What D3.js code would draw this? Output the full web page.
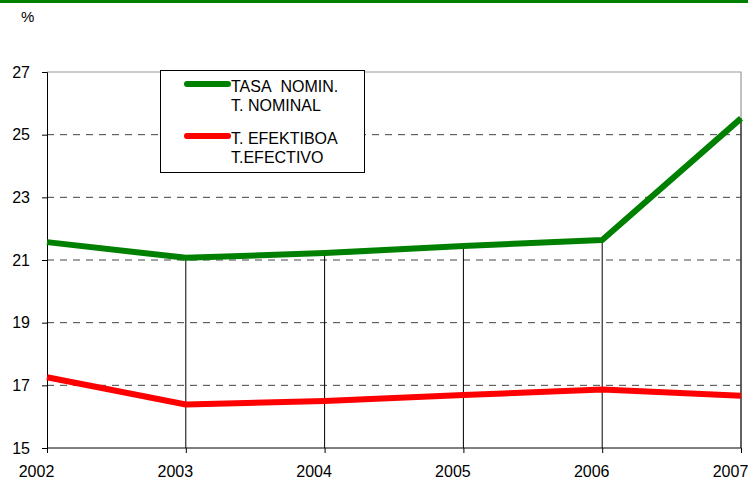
<!DOCTYPE html>
<html><head><meta charset="utf-8">
<script src="https://cdn.jsdelivr.net/npm/d3@7"></script>
<style>
body{margin:0;background:#fff;}
svg{display:block;font-family:"Liberation Sans",Arial,sans-serif;}
</style></head>
<body>
<svg id="c" width="748" height="482"></svg>
<script>
const years = [2002, 2003, 2004, 2005, 2006, 2007];
const nominal = [21.57, 21.07, 21.22, 21.45, 21.64, 25.52];
const efectivo = [17.26, 16.39, 16.50, 16.69, 16.87, 16.67];
const yTicks = [15, 17, 19, 21, 23, 25, 27];
const seriesNames = [["TASA\u00A0\u00A0NOMIN.", "T. NOMINAL"], ["T. EFEKTIBOA", "T.EFECTIVO"]];
const seriesColors = ["#008000", "#ff0000"];

const svg = d3.select("#c");
const L = 47, R = 741, T = 72, B = 448;
const x = d3.scaleLinear().domain([2002, 2007]).range([L, R]);
const y = d3.scaleLinear().domain([15, 27]).range([B, T]);

// top green band
svg.append("rect").attr("x", 0).attr("y", 0).attr("width", 748).attr("height", 3).attr("fill", "#008000");

// % label
svg.append("text").attr("x", 21).attr("y", 22).attr("font-size", 15).attr("fill", "#000").text("%");

// dashed gridlines
svg.append("g").selectAll("line").data(yTicks.filter(d => d > 15 && d < 27)).join("line")
  .attr("x1", L).attr("x2", R).attr("y1", d => y(d)).attr("y2", d => y(d))
  .attr("stroke", "#444").attr("stroke-width", 1).attr("stroke-dasharray", "7,6");

// plot border top/right (gray)
svg.append("path").attr("d", `M${L},${y(27)}H${R}V${B}`).attr("fill", "none").attr("stroke", "#999").attr("stroke-width", 1.2);

// drop lines
svg.append("g").selectAll("line").data(years.slice(1)).join("line")
  .attr("x1", d => x(d)).attr("x2", d => x(d))
  .attr("y1", (d, i) => y(nominal[i + 1])).attr("y2", B)
  .attr("stroke", "#000").attr("stroke-width", 1);

// Axes
const yAxis = d3.axisLeft(y).tickValues(yTicks).tickSize(5).tickPadding(12).tickFormat(d3.format("d"));
const gy = svg.append("g").attr("transform", `translate(${L},0)`).call(yAxis);
gy.select(".domain").attr("stroke", "#000");
gy.selectAll(".tick line").attr("stroke", "#000");
gy.selectAll(".tick text").attr("font-size", 16).attr("fill", "#000").attr("font-family", "Liberation Sans, Arial, sans-serif");

const xAxis = d3.axisBottom(x).tickValues(years).tickSize(5).tickFormat(d3.format("d"));
const gx = svg.append("g").attr("transform", `translate(0,${B})`).call(xAxis);
gx.select(".domain").attr("stroke", "#000").attr("d", `M${L},0H${R}`);
gx.selectAll(".tick line").attr("stroke", "#000");
gx.selectAll(".tick text").attr("font-size", 16).attr("fill", "#000")
  .attr("font-family", "Liberation Sans, Arial, sans-serif")
  .attr("dy", null).attr("y", 29).attr("x", -11);

// series lines
const line = d3.line().x((d, i) => x(years[i])).y(d => y(d));
[nominal, efectivo].forEach((s, k) => {
  svg.append("path").datum(s).attr("d", line).attr("fill", "none")
    .attr("stroke", seriesColors[k]).attr("stroke-width", 6).attr("stroke-linejoin", "round");
});

// legend
const lg = svg.append("g");
lg.append("rect").attr("x", 160.5).attr("y", 70.5).attr("width", 204).attr("height", 102)
  .attr("fill", "#fff").attr("stroke", "#000").attr("stroke-width", 1);
const legendY = [84, 136];
seriesNames.forEach((names, k) => {
  lg.append("line").attr("x1", 187).attr("x2", 228).attr("y1", legendY[k]).attr("y2", legendY[k])
    .attr("stroke", seriesColors[k]).attr("stroke-width", 6).attr("stroke-linecap", "round");
  names.forEach((n, j) => {
    lg.append("text").attr("x", 231).attr("y", legendY[k] + 8 + j * 18.5)
      .attr("font-size", 16).attr("fill", "#000").text(n);
  });
});
</script>
</body></html>
